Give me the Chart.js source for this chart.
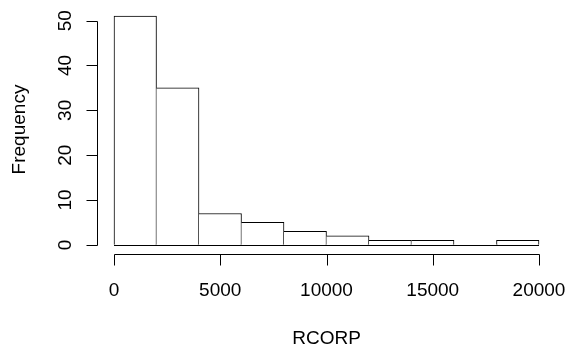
<!DOCTYPE html>
<html><head><meta charset="utf-8">
<script src="https://cdn.jsdelivr.net/npm/chart.js@4.4.0/dist/chart.umd.min.js"></script>
<style>html,body{margin:0;padding:0;background:#fff;}#wrap{width:568px;height:349px;position:relative;}</style>
</head><body><div id="wrap"><canvas id="c"></canvas></div>
<script>
// Data
const binStarts = [0, 2000, 4000, 6000, 8000, 10000, 12000, 14000, 16000, 18000];
const binWidth = 2000;
const frequencies = [51, 35, 7, 5, 3, 2, 1, 1, 0, 1];
const xTickValues = [0, 5000, 10000, 15000, 20000];
const xTickLabels = ['0', '5000', '10000', '15000', '20000'];
const yTickValues = [0, 10, 20, 30, 40, 50];
const yTickLabels = ['0', '10', '20', '30', '40', '50'];
const xTitle = 'RCORP';
const yTitle = 'Frequency';

const FONT = '19px "Liberation Sans", Arial, sans-serif';
const xLo = binStarts[0], xHi = binStarts[binStarts.length - 1] + binWidth;
const yHi = Math.max(...frequencies);
const xPad = (xHi - xLo) * 0.04, yPad = yHi * 0.04;

const rAxes = {
  id: 'rAxes',
  beforeDraw(chart) {
    const c = chart.ctx;
    c.save(); c.fillStyle = '#fff'; c.fillRect(0, 0, chart.width, chart.height); c.restore();
  },
  afterDraw(chart) {
    const c = chart.ctx, xs = chart.scales.x, ys = chart.scales.y, a = chart.chartArea;
    const crisp = v => Math.round(v) + 0.5;
    c.save();
    c.strokeStyle = '#000'; c.fillStyle = '#000'; c.lineWidth = 1;
    // baseline of histogram
    c.beginPath();
    c.moveTo(xs.getPixelForValue(xLo), crisp(ys.getPixelForValue(0)));
    c.lineTo(xs.getPixelForValue(xHi), crisp(ys.getPixelForValue(0)));
    c.stroke();
    // y axis
    const yx = crisp(a.left);
    c.beginPath();
    c.moveTo(yx, crisp(ys.getPixelForValue(yTickValues[0])));
    c.lineTo(yx, crisp(ys.getPixelForValue(yTickValues[yTickValues.length - 1])));
    yTickValues.forEach(v => { const p = crisp(ys.getPixelForValue(v)); c.moveTo(yx, p); c.lineTo(yx - 11, p); });
    c.stroke();
    // x axis
    const xy = crisp(a.bottom);
    c.beginPath();
    c.moveTo(crisp(xs.getPixelForValue(xTickValues[0])), xy);
    c.lineTo(crisp(xs.getPixelForValue(xTickValues[xTickValues.length - 1])), xy);
    xTickValues.forEach(v => { const p = crisp(xs.getPixelForValue(v)); c.moveTo(p, xy); c.lineTo(p, xy + 11); });
    c.stroke();
    c.font = FONT;
    c.textAlign = 'center'; c.textBaseline = 'alphabetic';
    xTickValues.forEach((v, i) => c.fillText(xTickLabels[i], xs.getPixelForValue(v), a.bottom + 42));
    c.fillText(xTitle, (a.left + a.right) / 2, a.bottom + 90);
    yTickValues.forEach((v, i) => {
      c.save(); c.translate(a.left - 26, ys.getPixelForValue(v)); c.rotate(-Math.PI / 2);
      c.fillText(yTickLabels[i], 0, 0); c.restore();
    });
    c.save(); c.translate(a.left - 77, (a.top + a.bottom) / 2 - 1); c.rotate(-Math.PI / 2);
    c.textBaseline = 'middle';
    c.fillText(yTitle, 0, 0); c.restore();
    c.restore();
  }
};

new Chart(document.getElementById('c'), {
  type: 'bar',
  data: {
    datasets: [{
      data: binStarts.map((s, i) => ({ x: s + binWidth / 2, y: frequencies[i] })),
      backgroundColor: '#fff',
      borderColor: '#000',
      borderSkipped: false,
      borderWidth: ctx => ({ top: 1, right: 1, bottom: 0,
        left: (ctx.dataIndex > 0 && frequencies[ctx.dataIndex - 1] >= frequencies[ctx.dataIndex]) ? 0 : 1 }),
      categoryPercentage: 1,
      barPercentage: 1
    }]
  },
  options: {
    responsive: true, maintainAspectRatio: false, animation: false,
    layout: { padding: { left: 97, right: 12, top: 7, bottom: 95 } },
    plugins: { legend: { display: false }, tooltip: { enabled: false } },
    scales: {
      x: { type: 'linear', display: false, offset: false, grid: { offset: false },
           min: xLo - xPad, max: xHi + xPad,
           afterBuildTicks: s => { s.ticks = xTickValues.map(v => ({ value: v })); } },
      y: { type: 'linear', display: false, min: -yPad, max: yHi + yPad,
           afterBuildTicks: s => { s.ticks = yTickValues.map(v => ({ value: v })); } }
    }
  },
  plugins: [rAxes]
});
</script>
</body></html>
